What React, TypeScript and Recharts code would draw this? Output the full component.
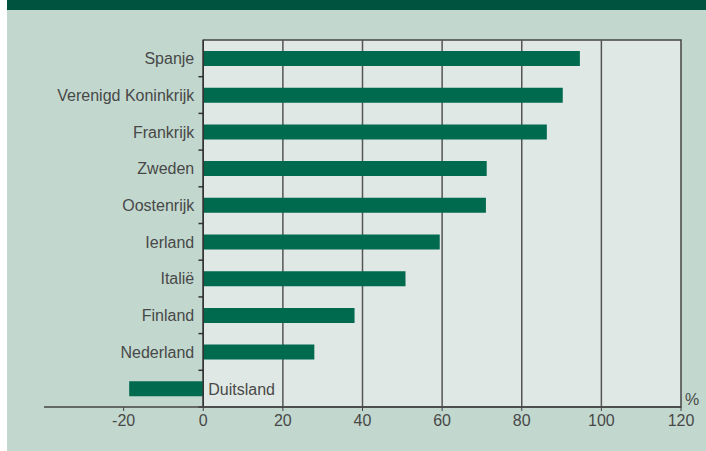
import {
  Bar,
  BarChart,
  Label,
  LabelList,
  ReferenceArea,
  ReferenceLine,
  XAxis,
  YAxis,
} from "recharts";

const countries = [
  "Spanje",
  "Verenigd Koninkrijk",
  "Frankrijk",
  "Zweden",
  "Oostenrijk",
  "Ierland",
  "Italië",
  "Finland",
  "Nederland",
  "Duitsland",
];
const shares = [94.6, 90.3, 86.3, 71.2, 71.0, 59.4, 50.8, 38.0, 27.9, -18.6];
const xTicks = [-20, 0, 20, 40, 60, 80, 100, 120];
const gridValues = [20, 40, 60, 80, 100];

const data = countries.map((name, i) => ({ name, value: shares[i] }));

const TEXT = "#484848";
const FONT = "'Liberation Sans', Arial, sans-serif";
const BAR = "#006a4e";

function CountryLabel(props: any) {
  const vb = props.viewBox ?? props;
  const x = Number(vb.x);
  const w = Number(vb.width);
  const cy = Number(vb.y) + Number(vb.height) / 2;
  const name = String(props.value);
  const v = shares[countries.indexOf(name)];
  const zero = v >= 0 ? Math.min(x, x + w) : Math.max(x, x + w);
  return (
    <text
      x={v >= 0 ? zero - 9 : zero + 5}
      y={cy}
      dy="0.36em"
      textAnchor={v >= 0 ? "end" : "start"}
      fill={TEXT}
      fontSize={16}
      fontFamily={FONT}
    >
      {name}
    </text>
  );
}

function PercentLabel(props: any) {
  const vb = props.viewBox;
  return (
    <text
      x={vb.x + vb.width + 11}
      y={vb.y - 8}
      dy="0.36em"
      textAnchor="middle"
      fill={TEXT}
      fontSize={16}
      fontFamily={FONT}
    >
      %
    </text>
  );
}

export default function App() {
  return (
    <div
      style={{
        position: "absolute",
        left: 0,
        top: 0,
        width: 706,
        height: 451,
        background: "#ffffff",
        overflow: "hidden",
      }}
    >
      <div
        style={{
          position: "absolute",
          left: 7,
          top: 0,
          width: 699,
          height: 451,
          background: "#c2d8ce",
        }}
      />
      <div
        style={{
          position: "absolute",
          left: 7,
          top: 0,
          width: 699,
          height: 10,
          background: "#00543f",
        }}
      />
      <div style={{ position: "absolute", left: 0, top: 0 }}>
        <BarChart
          width={706}
          height={451}
          data={data}
          layout="vertical"
          barSize={15}
          margin={{ top: 40, right: 25, left: 44, bottom: 14 }}
        >
          <ReferenceArea
            x1={0}
            x2={120}
            fill="#dfe8e5"
            fillOpacity={1}
            stroke="#444"
            strokeWidth={1.5}
            zIndex={-200}
          />
          {gridValues.map((g) => (
            <ReferenceLine key={g} x={g} stroke="#555" strokeWidth={1.5} zIndex={-150} />
          ))}
          {countries.map((c) => (
            <ReferenceLine
              key={"t" + c}
              segment={[
                { x: -1.2, y: c },
                { x: 0, y: c },
              ]}
              position="end"
              stroke="#333"
              strokeWidth={1.5}
            />
          ))}
          <XAxis
            type="number"
            domain={[-40, 120]}
            ticks={xTicks}
            allowDataOverflow
            height={30}
            axisLine={{ stroke: "#444", strokeWidth: 1.5 }}
            tickLine={{ stroke: "#444" }}
            tickSize={4}
            tickMargin={4}
            tick={{ fill: TEXT, fontSize: 16, fontFamily: FONT }}
          >
            <Label content={PercentLabel} />
          </XAxis>
          <YAxis type="category" dataKey="name" hide />
          <Bar dataKey="value" fill={BAR} isAnimationActive={false}>
            <LabelList dataKey="name" content={CountryLabel} />
          </Bar>
          <ReferenceLine x={0} stroke="#333" strokeWidth={1.5} />
        </BarChart>
      </div>
    </div>
  );
}
